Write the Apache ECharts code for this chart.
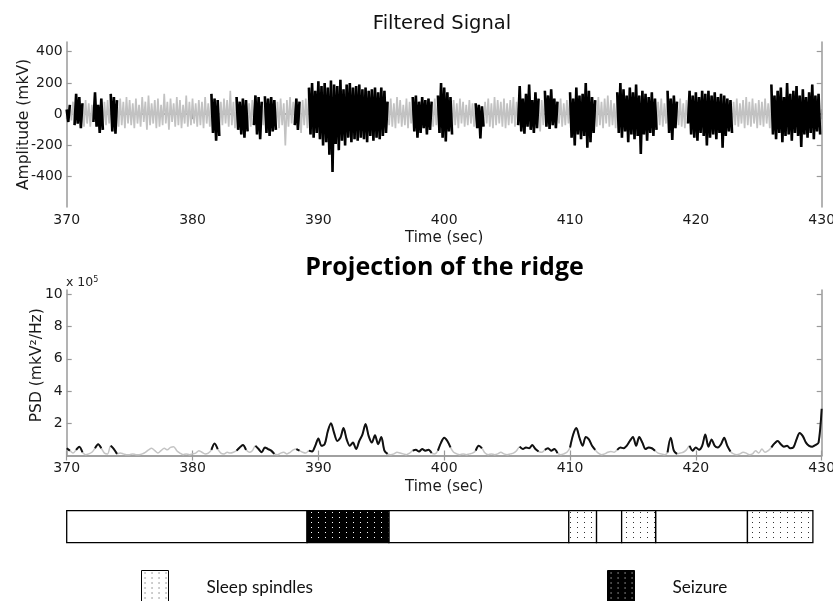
<!DOCTYPE html>
<html>
<head>
<meta charset="utf-8">
<script src="https://cdn.jsdelivr.net/npm/echarts@6/dist/echarts.min.js"></script>
<style>
html,body{margin:0;padding:0;background:#fff}
#chart{width:833px;height:601px}
</style>
</head>
<body>
<div id="chart"></div>
<script>
// time grid: one bin every 0.25 s from 370 s
var tStart = 370, binStep = 0.25;
var xTicks = [370, 380, 390, 400, 410, 420, 430];
var ampTicks = [-400, -200, 0, 200, 400];
var psdTicks = [2, 4, 6, 8, 10];

// filtered signal, positive / negative swing in each bin (mkV)
var sigHigh = [
	30,60,80,130,110,70,90,70,60,140,60,100,80,90,130,110,90,100,80,110,
	90,70,100,60,110,80,120,70,90,100,60,130,80,100,70,110,90,60,120,80,
	100,70,90,80,110,70,130,100,90,80,100,90,150,80,110,80,100,90,70,90,
	120,110,80,115,100,110,90,80,100,70,90,110,80,100,80,90,100,170,200,150,
	210,180,200,170,215,190,180,220,160,190,200,170,180,190,160,170,150,160,170,140,
	170,150,80,100,70,110,90,60,100,80,110,120,80,110,90,100,80,100,120,200,
	170,140,110,90,70,100,80,60,90,70,70,60,50,80,100,70,110,90,80,100,
	70,90,110,80,180,100,130,190,90,140,100,90,150,120,160,100,80,100,70,90,
	140,100,170,120,130,200,150,110,90,110,80,100,120,90,70,140,200,160,120,170,
	140,190,120,150,130,110,140,100,80,100,70,150,100,120,80,100,70,90,150,120,
	140,110,150,130,150,120,140,110,130,120,100,90,80,100,70,90,110,80,100,70,
	90,80,100,70,190,120,150,170,110,200,130,150,180,120,160,110,140,190,120,130
];
var sigLow = [
	-50,-40,-70,-60,-90,-80,-60,-80,-50,-80,-120,-100,-70,-60,-110,-125,-80,-70,-90,-60,
	-70,-90,-60,-80,-50,-100,-70,-60,-90,-80,-70,-60,-100,-50,-80,-70,-90,-60,-80,-70,
	-60,-80,-70,-90,-60,-80,-120,-170,-140,-70,-60,-80,-70,-90,-100,-130,-150,-110,-80,-70,
	-130,-160,-70,-120,-140,-110,-100,-90,-70,-200,-80,-60,-70,-100,-120,-70,-90,-130,-150,-120,
	-160,-200,-180,-260,-370,-190,-230,-170,-200,-150,-180,-160,-170,-150,-160,-180,-140,-170,-150,-160,
	-140,-120,-70,-80,-90,-60,-80,-70,-90,-60,-110,-150,-120,-90,-130,-100,-80,-70,-120,-150,
	-175,-110,-130,-70,-90,-60,-80,-70,-60,-80,-90,-155,-80,-60,-80,-90,-70,-60,-80,-90,
	-70,-60,-80,-70,-110,-125,-80,-100,-120,-90,-110,-70,-80,-95,-70,-90,-60,-80,-70,-60,
	-150,-200,-130,-160,-140,-215,-180,-120,-80,-70,-90,-60,-80,-70,-90,-120,-150,-110,-180,-130,
	-160,-140,-255,-130,-170,-120,-140,-100,-70,-80,-60,-120,-165,-90,-70,-80,-90,-60,-130,-150,
	-170,-120,-140,-200,-150,-130,-160,-120,-215,-140,-110,-120,-70,-80,-60,-90,-70,-80,-60,-90,
	-70,-80,-60,-90,-130,-160,-120,-180,-140,-130,-170,-120,-140,-210,-130,-150,-120,-160,-110,-130
];

// ridge projection, units of 1e5 mkV^2/Hz, 370..430 s
var psdE5 = [
	0.45,0.3,0.15,0.35,0.55,0.2,0.05,0.1,0.2,0.45,0.7,0.45,0.15,0.1,0.6,0.4,0.1,0.15,0.1,0.05,
	0.05,0.1,0.05,0.05,0.1,0.2,0.35,0.45,0.3,0.15,0.3,0.45,0.35,0.5,0.55,0.3,0.15,0.05,0.1,0.05,
	0.1,0.15,0.3,0.2,0.1,0.15,0.35,0.75,0.4,0.15,0.1,0.2,0.15,0.2,0.3,0.5,0.65,0.35,0.2,0.3,
	0.6,0.4,0.2,0.5,0.4,0.3,0.1,0.05,0.15,0.2,0.1,0.2,0.35,0.4,0.3,0.2,0.15,0.3,0.25,0.6,
	1.05,0.6,0.7,1.5,2.0,1.4,0.9,1.1,1.7,1.0,0.6,0.8,0.4,0.9,1.3,1.95,1.2,0.8,1.25,0.7,
	1.15,0.3,0.1,0.05,0.1,0.2,0.15,0.1,0.05,0.15,0.3,0.35,0.25,0.4,0.3,0.35,0.15,0.1,0.3,0.8,
	1.1,0.9,0.5,0.2,0.1,0.05,0.1,0.05,0.1,0.15,0.3,0.6,0.45,0.15,0.05,0.1,0.05,0.1,0.2,0.1,
	0.05,0.1,0.15,0.3,0.55,0.4,0.5,0.45,0.65,0.4,0.25,0.2,0.35,0.45,0.3,0.4,0.15,0.05,0.1,0.2,
	0.5,1.3,1.7,1.1,0.6,1.15,1.0,0.6,0.35,0.15,0.05,0.1,0.2,0.25,0.2,0.35,0.5,0.45,0.6,0.9,
	1.15,0.6,1.15,0.8,0.4,0.5,0.45,0.3,0.15,0.1,0.05,0.2,1.1,0.3,0.1,0.15,0.2,0.35,0.6,0.3,
	0.5,0.35,0.6,1.3,0.55,1.0,0.6,0.5,0.7,1.1,0.6,0.25,0.1,0.05,0.1,0.2,0.15,0.05,0.1,0.3,
	0.15,0.4,0.2,0.3,0.5,0.75,0.9,0.7,0.55,0.6,0.45,0.5,1.0,1.4,1.2,0.8,0.6,0.55,0.65,0.8,
	2.9
];

// detected events (drawn black), [start, end] in s
var events = [
	[369.9,370.3],[370.6,371.3],[372.1,372.9],[373.4,374.1],[381.5,382.2],
	[383.5,384.4],[384.8,385.5],[385.7,386.7],[388.1,388.6],[389.2,395.5],
	[397.4,399.0],[399.5,400.7],[402.5,403.2],[405.8,407.6],[408.0,409.0],
	[410.0,412.0],[413.7,416.9],[417.7,418.5],[419.3,422.9],[425.9,430]
];

// annotation bar segments
var normalSeg = [[370,389.1],[395.6,409.9],[412.1,414.1],[416.8,424.1]];
var seizureSeg = [[389.1,395.6]];
var spindleSeg = [[409.9,412.1],[414.1,416.8],[424.1,429.3]];

function inEvent(t) {
	for (var k = 0; k < events.length; k++) {
		if (t >= events[k][0] && t <= events[k][1]) return true;
	}
	return false;
}

var sigAll = [], sigEvt = [];
for (var i = 0; i < sigHigh.length; i++) {
	var t0 = tStart + i * binStep, t1 = t0 + binStep / 2;
	sigAll.push([t0, sigHigh[i]], [t1, sigLow[i]]);
	sigEvt.push([t0, inEvent(t0) ? sigHigh[i] : null], [t1, inEvent(t1) ? sigLow[i] : null]);
}
var psdAll = [], psdEvt = [];
for (var j = 0; j < psdE5.length; j++) {
	var t = tStart + j * binStep;
	psdAll.push([t, psdE5[j]]);
	psdEvt.push([t, inEvent(t) ? psdE5[j] : null]);
}

function dots(bg, fg, w, h) {
	var c = document.createElement('canvas');
	c.width = w; c.height = h;
	var g = c.getContext('2d');
	g.fillStyle = bg; g.fillRect(0, 0, w, h);
	g.fillStyle = fg; g.fillRect(3, 2, 1, 1);
	return {image: c, repeat: 'repeat'};
}
var spindleFill = dots('#ffffff', '#333333', 7, 5);
var seizureFill = dots('#000000', '#ffffff', 7, 5);

var FONT = 'DejaVu Sans';
var frameLine = {show: true, lineStyle: {color: '#9a9a9a', width: 1.5}};
var labelStyle = {color: '#1a1a1a', fontFamily: FONT, fontSize: 14};

function timeAxis(grid, pos, withLabels) {
	return {
		type: 'value', gridIndex: grid, position: pos, min: 370, max: 430, interval: 10,
		axisLine: frameLine,
		axisTick: {show: true, inside: true, length: 5, lineStyle: {color: '#9a9a9a', width: 1.2}},
		axisLabel: withLabels ? Object.assign({show: true, margin: 6}, labelStyle) : {show: false},
		splitLine: {show: false},
		name: withLabels ? 'Time (sec)' : '',
		nameLocation: 'middle', nameGap: 24, nameMoveOverlap: false,
		nameTextStyle: {color: '#1a1a1a', fontFamily: FONT, fontSize: 15}
	};
}
function valueAxis(grid, pos, min, max, ticks, name, gap, namePad) {
	return {
		type: 'value', gridIndex: grid, position: pos, min: min, max: max,
		axisLine: frameLine,
		axisTick: {show: true, inside: true, length: 5, customValues: ticks, lineStyle: {color: '#9a9a9a', width: 1.2}},
		axisLabel: name ? Object.assign({show: true, margin: 4, customValues: ticks}, labelStyle) : {show: false},
		splitLine: {show: false},
		name: name || '', nameLocation: 'middle', nameGap: gap, nameMoveOverlap: false,
		nameTextStyle: {color: '#1a1a1a', fontFamily: FONT, fontSize: 15.5, padding: namePad || 0}
	};
}

function segRender(fill) {
	return function (params, api) {
		var a = api.coord([api.value(0), 1]);
		var b = api.coord([api.value(1), 0]);
		return {
			type: 'rect',
			shape: {x: a[0], y: a[1], width: b[0] - a[0], height: b[1] - a[1]},
			style: {fill: fill, stroke: '#000', lineWidth: 1.3}
		};
	};
}

var option = {
	animation: false,
	backgroundColor: '#fff',
	title: [
		{text: 'Filtered Signal', left: 437, top: 9, textAlign: 'center',
			textStyle: {fontFamily: FONT, fontWeight: 'normal', fontSize: 19.5, color: '#111'}},
		{text: 'Projection of the ridge', left: 439.5, top: 250, textAlign: 'center',
			textStyle: {fontFamily: 'Open Sans', fontWeight: 'bold', fontSize: 25, color: '#000'}}
	],
	graphic: [{
		type: 'text', left: 66, top: 276,
		style: {
			text: 'x 10{s|5}', fill: '#222', fontSize: 12.5, fontFamily: FONT,
			rich: {s: {fontSize: 8, verticalAlign: 'top', padding: [0, 0, 6, 0], fontFamily: FONT}}
		}
	}],
	legend: [
		{data: ['Sleep spindles'], left: 141, top: 570, padding: 0, icon: 'rect', itemWidth: 27, itemHeight: 34,
			itemStyle: {borderColor: '#000', borderWidth: 1},
			textStyle: {fontFamily: 'Lato', fontSize: 17.2, color: '#111', padding: [0, 0, 0, 33]}},
		{data: ['Seizure'], left: 607, top: 570, padding: 0, icon: 'rect', itemWidth: 27, itemHeight: 34,
			itemStyle: {borderColor: '#000', borderWidth: 1},
			textStyle: {fontFamily: 'Lato', fontSize: 17.2, color: '#111', padding: [0, 0, 0, 33]}}
	],
	grid: [
		{left: 66.7, top: 42, width: 755, height: 165, outerBoundsMode: 'none'},
		{left: 66.7, top: 290, width: 755, height: 165.5, outerBoundsMode: 'none'},
		{left: 66.7, top: 510.7, width: 755, height: 32, outerBoundsMode: 'none'}
	],
	xAxis: [
		timeAxis(0, 'bottom', true),
		timeAxis(0, 'top', false),
		timeAxis(1, 'bottom', true),
		timeAxis(1, 'top', false),
		{type: 'value', gridIndex: 2, min: 370, max: 430, show: false}
	],
	yAxis: [
		valueAxis(0, 'left', -594, 462, ampTicks, 'Amplitude (mkV)', 35),
		valueAxis(0, 'right', -594, 462, ampTicks),
		valueAxis(1, 'left', 0, 10.27, psdTicks, 'PSD (mkV\u00b2/Hz)', 22, [0, 0, 0, 15]),
		valueAxis(1, 'right', 0, 10.27, psdTicks),
		{type: 'value', gridIndex: 2, min: 0, max: 1, show: false}
	],
	series: [
		{type: 'line', name: 'signal', xAxisIndex: 0, yAxisIndex: 0, data: sigAll, symbol: 'none',
			lineStyle: {color: '#c2c2c2', width: 1.7}, silent: true},
		{type: 'line', name: 'events', xAxisIndex: 0, yAxisIndex: 0, data: sigEvt, symbol: 'none',
			lineStyle: {color: '#000', width: 2.6}, silent: true},
		{type: 'line', name: 'ridge', xAxisIndex: 2, yAxisIndex: 2, data: psdAll, symbol: 'none', smooth: 0.3,
			lineStyle: {color: '#c4c4c4', width: 1.5}, silent: true},
		{type: 'line', name: 'ridge events', xAxisIndex: 2, yAxisIndex: 2, data: psdEvt, symbol: 'none', smooth: 0.3,
			lineStyle: {color: '#111', width: 2}, silent: true},
		{type: 'custom', name: 'Background', xAxisIndex: 4, yAxisIndex: 4, data: normalSeg,
			encode: {x: [0, 1]}, itemStyle: {color: '#fff'}, renderItem: segRender('#fff'), silent: true},
		{type: 'custom', name: 'Seizure', xAxisIndex: 4, yAxisIndex: 4, data: seizureSeg,
			encode: {x: [0, 1]}, itemStyle: {color: seizureFill}, renderItem: segRender(seizureFill), silent: true},
		{type: 'custom', name: 'Sleep spindles', xAxisIndex: 4, yAxisIndex: 4, data: spindleSeg,
			encode: {x: [0, 1]}, itemStyle: {color: spindleFill}, renderItem: segRender(spindleFill), silent: true}
	]
};

var myChart = echarts.init(document.getElementById('chart'));
myChart.setOption(option);
</script>
</body>
</html>
